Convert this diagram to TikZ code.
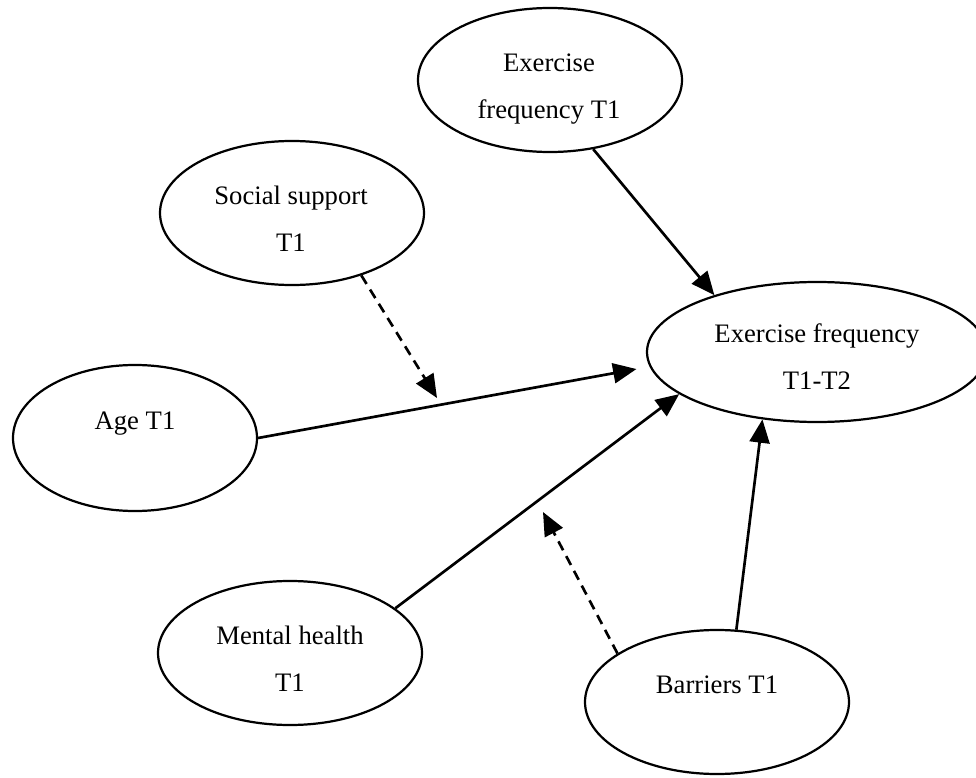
\documentclass[tikz,border=0pt]{standalone}
\usepackage{fontspec}
\setmainfont{Liberation Serif}
\usetikzlibrary{arrows.meta,shapes.geometric}

\begin{document}
\begin{tikzpicture}[x=0.45pt,y=-0.45pt,
  % variable ellipse: #1 = half width, #2 = half height (in picture units)
  var/.style 2 args={ellipse,draw,line width=1pt,inner sep=0pt,
    minimum width=#1*0.9pt,minimum height=#2*0.9pt},
  lbl/.style={anchor=base,inner sep=0pt,font=\fontsize{12}{14}\selectfont},
  effect/.style={line width=1.2pt,-{Triangle[length=10.5pt,width=9pt]}},
  moderator/.style={effect,dash pattern=on 4.5pt off 3pt}]
\clip (0,0) rectangle (976,778);

% variables
\node[var={132}{72}] (exf1)  at (550,80)  {};
\node[var={132}{72}] (soc)   at (292,213) {};
\node[var={122}{73}] (age)   at (135,438) {};
\node[var={170}{70}] (exf12) at (817,352) {};
\node[var={132}{72}] (mh)    at (290,653) {};
\node[var={132}{72}] (bar)   at (717,702) {};

% labels
\node[lbl] (exf1-a)  at (549,71.5)  {Exercise};
\node[lbl] (exf1-b)  at (549,118.5) {frequency T1};
\node[lbl] (soc-a)   at (291,204.5) {Social support};
\node[lbl] (soc-b)   at (291,251.5) {T1};
\node[lbl] (age-a)   at (135,429.5) {Age T1};
\node[lbl] (exf12-a) at (817,342)   {Exercise frequency};
\node[lbl] (exf12-b) at (817,389.5) {T1-T2};
\node[lbl] (mh-a)    at (290,644.5) {Mental health};
\node[lbl] (mh-b)    at (290,691.5) {T1};
\node[lbl] (bar-a)   at (717,693)   {Barriers T1};

% direct effects
\draw[effect] (exf1.-58) -- (exf12.151);
\draw[effect,shorten >=6pt] (age.east) -- (exf12.185);
\draw[effect] (mh.23) -- (exf12.197);
\draw[effect] (bar.75) -- (exf12.231);

% moderation paths ending at the effect lines
\coordinate (m1) at (437,398);
\coordinate (m2) at (543,512);
\draw[moderator] (soc.-42) -- (m1);
\draw[moderator] (bar.154) -- (m2);
\end{tikzpicture}
\end{document}
